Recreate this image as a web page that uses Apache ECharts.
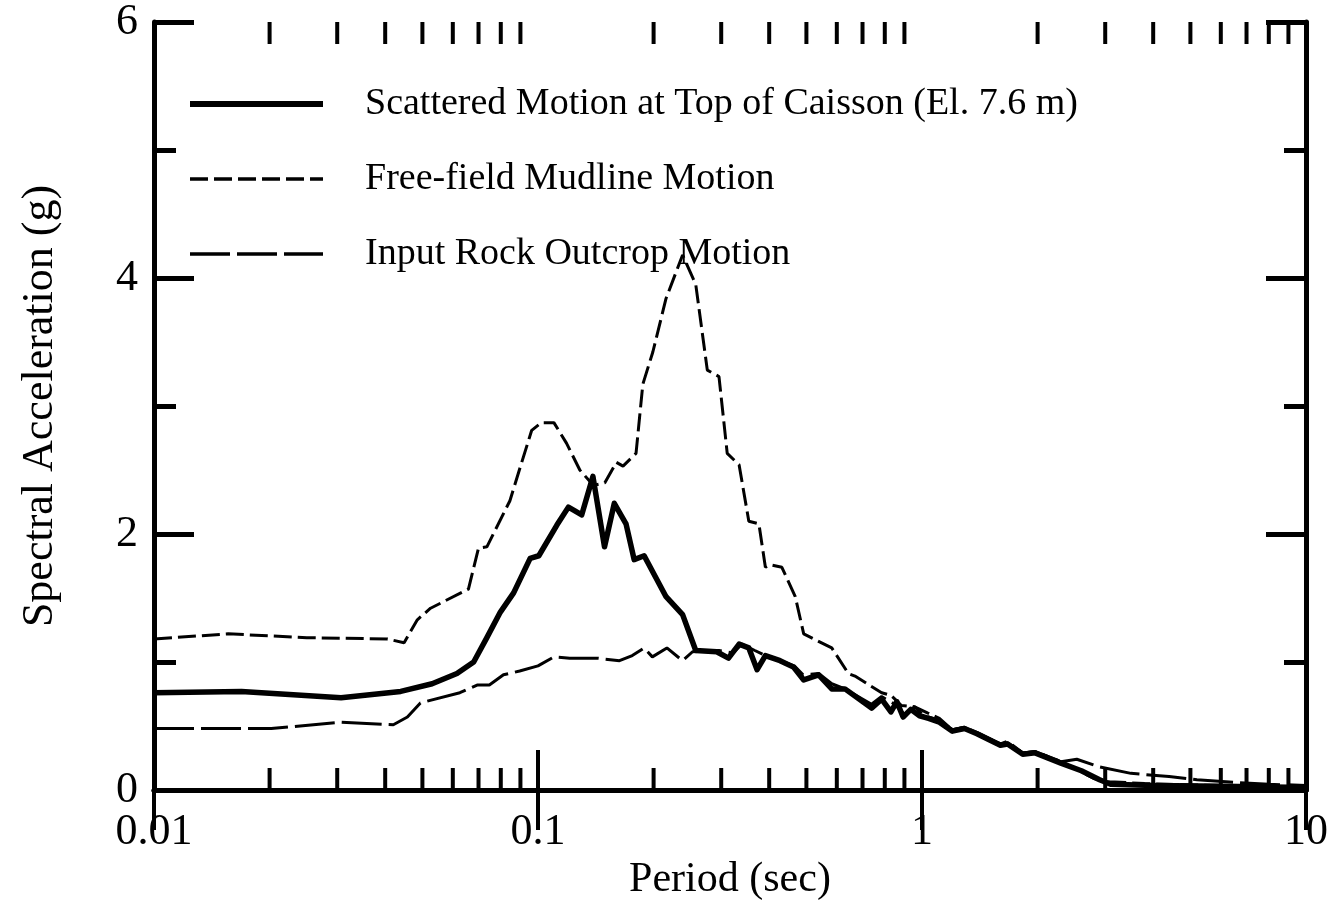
<!DOCTYPE html>
<html>
<head>
<meta charset="utf-8">
<title>Spectral Acceleration vs Period</title>
<script src="https://cdn.jsdelivr.net/npm/echarts@6/dist/echarts.min.js"></script>
<style>
  html, body { margin: 0; padding: 0; background: #fff; }
  #chart { width: 1341px; height: 902px; }
</style>
</head>
<body>
<div id="chart"></div>
<script>
// Response spectra (5% damping), period in seconds, Sa in g
const scatteredPeriod = [0.01, 0.0169, 0.0307, 0.0439, 0.053, 0.0615, 0.068, 0.0736, 0.0798, 0.0864, 0.0954, 0.1005, 0.112, 0.12, 0.13, 0.139, 0.149, 0.158, 0.1695, 0.178, 0.189, 0.2155, 0.238, 0.2575, 0.292, 0.3134, 0.334, 0.354, 0.372, 0.391, 0.427, 0.4628, 0.492, 0.538, 0.582, 0.63, 0.739, 0.785, 0.83, 0.86, 0.893, 0.935, 0.985, 1.04, 1.11, 1.2, 1.29, 1.39, 1.6, 1.67, 1.83, 1.97, 2.3, 2.6, 2.9, 3.1, 4, 6, 10];
const scatteredSa = [0.76, 0.77, 0.72, 0.77, 0.83, 0.91, 1.0, 1.19, 1.39, 1.54, 1.81, 1.83, 2.07, 2.21, 2.15, 2.45, 1.9, 2.24, 2.08, 1.8, 1.83, 1.51, 1.37, 1.09, 1.08, 1.03, 1.14, 1.11, 0.94, 1.05, 1.01, 0.96, 0.86, 0.9, 0.79, 0.79, 0.64, 0.71, 0.61, 0.69, 0.57, 0.63, 0.58, 0.56, 0.53, 0.46, 0.48, 0.44, 0.35, 0.36, 0.28, 0.29, 0.21, 0.15, 0.08, 0.045, 0.035, 0.03, 0.02];

const freeFieldPeriod = [0.01, 0.0156, 0.025, 0.0406, 0.0448, 0.0485, 0.0525, 0.0659, 0.07, 0.0736, 0.0845, 0.0907, 0.0963, 0.102, 0.11, 0.1186, 0.1285, 0.1393, 0.1493, 0.16, 0.1665, 0.18, 0.1875, 0.199, 0.2155, 0.238, 0.2575, 0.276, 0.296, 0.311, 0.334, 0.354, 0.376, 0.391, 0.403, 0.4316, 0.4677, 0.492, 0.582, 0.643, 0.669, 0.785, 0.83, 0.884, 0.957, 1.036, 1.11, 1.2, 1.29, 1.39, 1.6, 1.67, 1.83, 1.97, 2.27, 2.5, 2.8, 3.07, 3.8, 5, 7, 10];
const freeFieldSa = [1.18, 1.22, 1.19, 1.18, 1.15, 1.33, 1.42, 1.57, 1.89, 1.9, 2.26, 2.56, 2.81, 2.87, 2.87, 2.71, 2.5, 2.38, 2.4, 2.56, 2.53, 2.63, 3.17, 3.42, 3.84, 4.18, 3.95, 3.28, 3.23, 2.63, 2.54, 2.1, 2.08, 1.74, 1.76, 1.74, 1.51, 1.22, 1.11, 0.91, 0.89, 0.76, 0.74, 0.66, 0.65, 0.6, 0.56, 0.47, 0.49, 0.44, 0.36, 0.37, 0.29, 0.3, 0.23, 0.17, 0.09, 0.065, 0.05, 0.04, 0.03, 0.02];

const rockPeriod = [0.01, 0.0202, 0.0307, 0.042, 0.0457, 0.0494, 0.0626, 0.0694, 0.0747, 0.0813, 0.0896, 0.1, 0.11, 0.121, 0.1424, 0.163, 0.176, 0.189, 0.1985, 0.2166, 0.238, 0.2526, 0.296, 0.3217, 0.3395, 0.367, 0.391, 0.42, 0.465, 0.49, 0.538, 0.582, 0.63, 0.739, 0.785, 0.85, 0.9, 0.957, 1.01, 1.1, 1.2, 1.29, 1.39, 1.6, 1.67, 1.83, 1.97, 2.3, 2.53, 2.9, 3.5, 4.4, 5.2, 6.5, 8, 10];
const rockSa = [0.48, 0.48, 0.53, 0.51, 0.57, 0.68, 0.76, 0.82, 0.82, 0.9, 0.93, 0.97, 1.04, 1.03, 1.03, 1.01, 1.05, 1.11, 1.04, 1.11, 1.01, 1.08, 1.09, 1.07, 1.14, 1.09, 1.05, 1.02, 0.97, 0.9, 0.91, 0.83, 0.79, 0.67, 0.73, 0.67, 0.59, 0.65, 0.58, 0.55, 0.47, 0.49, 0.45, 0.36, 0.38, 0.29, 0.3, 0.22, 0.24, 0.18, 0.13, 0.105, 0.08, 0.06, 0.045, 0.035];

// Intermediate log-decade tick marks (2..9 of each decade)
const minorPeriodTicks = [0.02, 0.03, 0.04, 0.05, 0.06, 0.07, 0.08, 0.09,
                          0.2, 0.3, 0.4, 0.5, 0.6, 0.7, 0.8, 0.9,
                          2, 3, 4, 5, 6, 7, 8, 9];

const seriesNames = ['Scattered Motion at Top of Caisson (El. 7.6 m)', 'Free-field Mudline Motion', 'Input Rock Outcrop Motion'];

const zip = (xs, ys) => xs.map((x, i) => [x, ys[i]]);

const FONT = 'Liberation Serif';
const SA_MIN = 0, SA_MAX = 6;

const styles = [
  { color: '#000', width: 5.5, type: 'solid', join: 'round' },
  { color: '#000', width: 3, type: [18, 6] },
  { color: '#000', width: 3, type: [40, 7] }
];
const legendLineWidths = [6, 3.5, 3.5];

const chart = echarts.init(document.getElementById('chart'), null, { renderer: 'canvas' });

const frameLine = { show: true, lineStyle: { color: '#000', width: 5 } };

const option = {
  animation: false,
  backgroundColor: '#fff',
  grid: { left: 154, right: 35, top: 22, bottom: 112, containLabel: false, outerBoundsMode: 'none' },
  legend: {
    data: seriesNames.map((name, i) => ({
      name,
      lineStyle: Object.assign({}, styles[i], { width: legendLineWidths[i] })
    })),
    orient: 'vertical',
    left: 187,
    top: 84,
    padding: 0,
    itemWidth: 133,
    itemHeight: 20,
    itemGap: 35,
    selectedMode: false,
    itemStyle: { opacity: 0 },
    textStyle: { fontFamily: FONT, fontSize: 38, color: '#000', lineHeight: 40, padding: [0, 0, 0, 37] }
  },
  xAxis: [
    {
      type: 'log', logBase: 10, min: 0.01, max: 10,
      name: 'Period (sec)', nameLocation: 'middle', nameGap: 69,
      nameTextStyle: { fontFamily: FONT, fontSize: 42, color: '#000' },
      axisLine: frameLine,
      axisTick: { show: true, inside: true, length: 40, lineStyle: { color: '#000', width: 4 } },
      minorTick: { show: false },
      axisLabel: { fontFamily: FONT, fontSize: 44, color: '#000', margin: 20 },
      splitLine: { show: false }
    },
    {
      type: 'log', logBase: 10, min: 0.01, max: 10, position: 'top',
      axisLine: frameLine,
      axisTick: { show: true, inside: true, length: 40, lineStyle: { color: '#000', width: 4 } },
      axisLabel: { show: false },
      splitLine: { show: false }
    }
  ],
  yAxis: [
    {
      type: 'value', min: SA_MIN, max: SA_MAX, interval: 2,
      name: 'Spectral Acceleration (g)', nameLocation: 'middle', nameGap: 92, nameRotate: 90,
      nameTextStyle: { fontFamily: FONT, fontSize: 44, color: '#000' },
      axisLine: frameLine,
      axisTick: { show: true, inside: true, length: 40, lineStyle: { color: '#000', width: 5 } },
      minorTick: { show: true, splitNumber: 2, length: 22, lineStyle: { color: '#000', width: 5 } },
      axisLabel: { fontFamily: FONT, fontSize: 44, color: '#000', margin: 16 },
      splitLine: { show: false }, minorSplitLine: { show: false }
    },
    {
      type: 'value', min: SA_MIN, max: SA_MAX, interval: 2, position: 'right',
      axisLine: frameLine,
      axisTick: { show: true, inside: true, length: 40, lineStyle: { color: '#000', width: 5 } },
      minorTick: { show: true, splitNumber: 2, length: 22, lineStyle: { color: '#000', width: 5 } },
      axisLabel: { show: false },
      splitLine: { show: false }, minorSplitLine: { show: false }
    }
  ],
  series: [
    {
      type: 'custom',
      name: 'periodTicks',
      xAxisIndex: 0, yAxisIndex: 0,
      silent: true,
      data: minorPeriodTicks.map(v => [v, SA_MIN]),
      renderItem: function (params, api) {
        const v = api.value(0);
        const bottom = api.coord([v, SA_MIN]);
        const top = api.coord([v, SA_MAX]);
        const len = 22;
        const style = { stroke: '#000', lineWidth: 4 };
        return {
          type: 'group',
          children: [
            { type: 'line', shape: { x1: bottom[0], y1: bottom[1], x2: bottom[0], y2: bottom[1] - len }, style },
            { type: 'line', shape: { x1: top[0], y1: top[1], x2: top[0], y2: top[1] + len }, style }
          ]
        };
      }
    },
    {
      name: seriesNames[0], type: 'line', symbol: 'none', smooth: false,
      data: zip(scatteredPeriod, scatteredSa),
      lineStyle: styles[0],
      itemStyle: { color: '#000' }, z: 4
    },
    {
      name: seriesNames[1], type: 'line', symbol: 'none', smooth: false,
      data: zip(freeFieldPeriod, freeFieldSa),
      lineStyle: styles[1],
      itemStyle: { color: '#000' }, z: 3
    },
    {
      name: seriesNames[2], type: 'line', symbol: 'none', smooth: false,
      data: zip(rockPeriod, rockSa),
      lineStyle: styles[2],
      itemStyle: { color: '#000' }, z: 3
    }
  ]
};

chart.setOption(option);
</script>
</body>
</html>
